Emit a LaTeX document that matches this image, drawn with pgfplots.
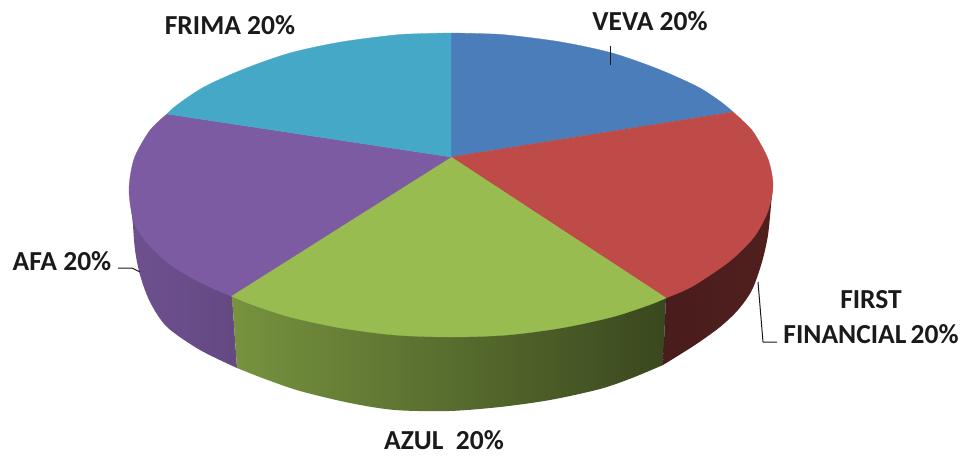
\documentclass[border=0pt]{standalone}
\usepackage{pgfplots}
\pgfplotsset{compat=1.18}
\usepackage{fontspec}
\setmainfont{Carlito}
\definecolor{cblue}{HTML}{4A7DBA}
\definecolor{cred}{HTML}{BE4B48}
\definecolor{cgreen}{HTML}{98BC50}
\definecolor{cpurple}{HTML}{7D5BA3}
\definecolor{ccyan}{HTML}{45A8C6}
\definecolor{ctext}{HTML}{1A1A1A}
\begin{document}
\begin{tikzpicture}
\useasboundingbox (0,0) rectangle (966pt,457pt);
\begin{axis}[
  at={(0,0)},anchor=south west,
  width=966pt,height=457pt,scale only axis,
  xmin=0,xmax=966,ymin=0,ymax=457,y dir=reverse,
  hide axis,clip=false,
  every axis plot/.append style={no markers,line join=round},
]
% sides: bottom rim, then closed across the top face
\addplot[smooth,draw=none,left color=cpurple!88!black,right color=cpurple!80!black]
 coordinates {(133,225)(135,250)(140,275)(150,302)(167,327)(200,350)(237,368)} -- (axis cs:232,296) -- (axis cs:129,190) -- cycle;
\addplot[smooth,draw=none,left color=cgreen!78!black,middle color=cgreen!62!black,right color=cgreen!38!black]
 coordinates {(237,368)(265,379)(300,391)(350,403)(395,410)(449,411)(500,407)(550,400)(600,389)(632,378)(663,365)} -- (axis cs:666,297) -- (axis cs:232,296) -- cycle;
\addplot[smooth,draw=none,left color=cred!38!black,right color=cred!42!black]
 coordinates {(663,365)(695,345)(720,327)(738,310)(752,290)(762,262)(768,235)(771,205)} -- (axis cs:773,185) -- (axis cs:666,297) -- cycle;
% top face
\addplot[smooth,fill=cblue,draw=cblue,line width=0.3pt]
 coordinates {(451,33)(479,33.6)(507,35)(561,42)(612,53)(658,69)(698,87)(721,102)(733,112)} -- (axis cs:451,157) -- cycle;
\addplot[smooth,fill=cred,draw=cred,line width=0.3pt]
 coordinates {(733,112)(743,121)(754,133)(768,159)(773,185)(768,211)(754,237)(730,261)(698,283)(683,291)(666,298)} -- (axis cs:451,157) -- cycle;
\addplot[smooth,fill=cgreen,draw=cgreen,line width=0.3pt]
 coordinates {(666,298)(649,305)(612,317)(561,328)(507,335)(451,337)(395,335)(341,328)(290,317)(253,305)(231,296)} -- (axis cs:451,157) -- cycle;
\addplot[smooth,fill=cpurple,draw=cpurple,line width=0.3pt]
 coordinates {(231,296)(212,288)(190,277)(168,263)(147,243)(134,222)(129,190)(134,159)(148,133)(158,122)(167,114)} -- (axis cs:451,157) -- cycle;
\addplot[smooth,fill=ccyan,draw=ccyan,line width=0.3pt]
 coordinates {(167,114)(177,105)(204,87)(244,69)(290,53)(341,42)(395,35)(423,33.6)(451,33)} -- (axis cs:451,157) -- cycle;
% leader lines
\addplot[ctext,line width=1pt] coordinates {(610,46)(610,65)};
\addplot[ctext,line width=1pt] coordinates {(118,268)(132,268)(140,272)};
\addplot[ctext,line width=1pt] coordinates {(758,282)(763,342)(777,342)};
% labels
\begin{scope}[every node/.style={font=\fontsize{27.5}{30}\selectfont\bfseries,text=ctext,inner sep=0pt}]
\node at (axis cs:230,25) {FRIMA 20\%};
\node at (axis cs:650,21) {VEVA 20\%};
\node at (axis cs:62,261) {AFA 20\%};
\node at (axis cs:871,300) {FIRST};
\node at (axis cs:871,334) {FINANCIAL\kern-2pt\ 20\%};
\node at (axis cs:444,440) {AZUL\ \ 20\%};
\end{scope}
\end{axis}
\end{tikzpicture}
\end{document}
